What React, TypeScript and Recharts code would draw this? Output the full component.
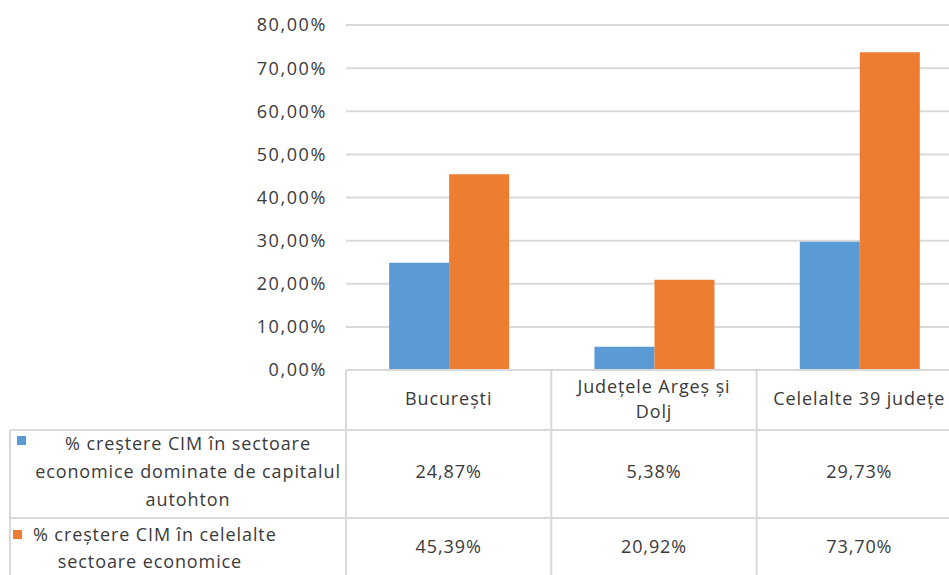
import React from 'react';
import { BarChart, Bar, XAxis, YAxis, CartesianGrid } from 'recharts';

const categories = ['București', 'Județele Argeș și Dolj', 'Celelalte 39 județe'];
const categoryLines = [['București'], ['Județele Argeș și', 'Dolj'], ['Celelalte 39 județe']];
const seriesNameLines = [
  ['% creștere CIM în sectoare', 'economice dominate de capitalul', 'autohton'],
  ['% creștere CIM în celelalte', 'sectoare economice'],
];
const autohton = [24.87, 5.38, 29.73];
const celelalte = [45.39, 20.92, 73.7];
const yTicks = [0, 10, 20, 30, 40, 50, 60, 70, 80];

const COLORS = ['#5B9BD5', '#ED7D31'];
const TEXT = '#3a3a3a';
const LINE = '#d9d9d9';
const FONT = "'Open Sans', sans-serif";
const FS = 18;
const LS = 0.9;

const W = 1000;
const H = 575;
const TOP = 25;
const PLOT_LEFT = 346;
const PLOT_RIGHT = 962;
const PLOT_BOTTOM = 370;
const ROW0_BOTTOM = 430;
const ROW1_BOTTOM = 518;
const ROW2_BOTTOM = 582;
const TABLE_LEFT = 10;

const data = categories.map((name, i) => ({ name, a: autohton[i], b: celelalte[i] }));
const seriesValues = [autohton, celelalte];

const fmt = (v: number) => v.toFixed(2).replace('.', ',') + '%';

const TableTick = (props: any) => {
  const { x, index } = props;
  const bw = (PLOT_RIGHT - PLOT_LEFT) / categories.length;
  const lines = categoryLines[index] || [];
  const headerMid = (PLOT_BOTTOM + ROW0_BOTTOM) / 2;
  const lh = 25;
  const rowMids = [(ROW0_BOTTOM + ROW1_BOTTOM) / 2 - 3, (ROW1_BOTTOM + ROW2_BOTTOM) / 2 - 4];
  return (
    <g fontFamily={FONT} fontSize={FS} fill={TEXT} letterSpacing={LS}>
      <line x1={x - bw / 2} x2={x - bw / 2} y1={PLOT_BOTTOM} y2={H} stroke={LINE} strokeWidth={2} />
      {index === categories.length - 1 && (
        <line x1={x + bw / 2} x2={x + bw / 2} y1={PLOT_BOTTOM} y2={H} stroke={LINE} strokeWidth={2} />
      )}
      {lines.map((t, k) => (
        <text key={k} x={x} y={headerMid - 2 + (k - (lines.length - 1) / 2) * lh} textAnchor="middle" dominantBaseline="central" fill={TEXT}>
          {t}
        </text>
      ))}
      {seriesValues.map((vals, s) => (
        <text key={'v' + s} x={x} y={rowMids[s]} textAnchor="middle" dominantBaseline="central" fill={TEXT}>
          {fmt(vals[index])}
        </text>
      ))}
      {index === 0 && (
        <g>
          <line x1={TABLE_LEFT} x2={PLOT_RIGHT} y1={ROW0_BOTTOM} y2={ROW0_BOTTOM} stroke={LINE} strokeWidth={2} />
          <line x1={TABLE_LEFT} x2={PLOT_RIGHT} y1={ROW1_BOTTOM} y2={ROW1_BOTTOM} stroke={LINE} strokeWidth={2} />
          <line x1={TABLE_LEFT} x2={TABLE_LEFT} y1={ROW0_BOTTOM} y2={H} stroke={LINE} strokeWidth={2} />
          <rect x={17} y={436} width={9} height={9} fill={COLORS[0]} />
          {seriesNameLines[0].map((t, k) => (
            <text key={'r0' + k} x={188} y={443 + k * 28} textAnchor="middle" dominantBaseline="central" fill={TEXT}>
              {t}
            </text>
          ))}
          <rect x={13} y={530} width={9} height={9} fill={COLORS[1]} />
          <text x={33} y={534} textAnchor="start" dominantBaseline="central" fill={TEXT}>
            {seriesNameLines[1][0]}
          </text>
          <text x={150} y={561} textAnchor="middle" dominantBaseline="central" fill={TEXT}>
            {seriesNameLines[1][1]}
          </text>
        </g>
      )}
    </g>
  );
};

export default function App() {
  return (
    <div style={{ position: 'absolute', left: 0, top: 0, width: 949, height: 575, overflow: 'hidden', background: '#fff' }}>
      <BarChart
        width={W}
        height={H}
        data={data}
        margin={{ top: TOP, right: W - PLOT_RIGHT, bottom: 0, left: 0 }}
        barCategoryGap="21%"
        barGap={0}
      >
        <CartesianGrid vertical={false} stroke={LINE} strokeWidth={2} />
        <YAxis
          width={PLOT_LEFT}
          domain={[0, 80]}
          ticks={yTicks}
          interval={0}
          tickFormatter={(v: number) => fmt(v)}
          axisLine={false}
          tickLine={false}
          tickSize={0}
          tickMargin={19}
          tick={{ fontSize: FS, fill: TEXT, fontFamily: FONT, letterSpacing: 1.6 }}
        />
        <XAxis
          dataKey="name"
          height={H - PLOT_BOTTOM}
          interval={0}
          tickLine={false}
          axisLine={{ stroke: LINE, strokeWidth: 2 }}
          tick={<TableTick />}
        />
        <Bar dataKey="a" fill={COLORS[0]} isAnimationActive={false} />
        <Bar dataKey="b" fill={COLORS[1]} isAnimationActive={false} />
      </BarChart>
    </div>
  );
}
